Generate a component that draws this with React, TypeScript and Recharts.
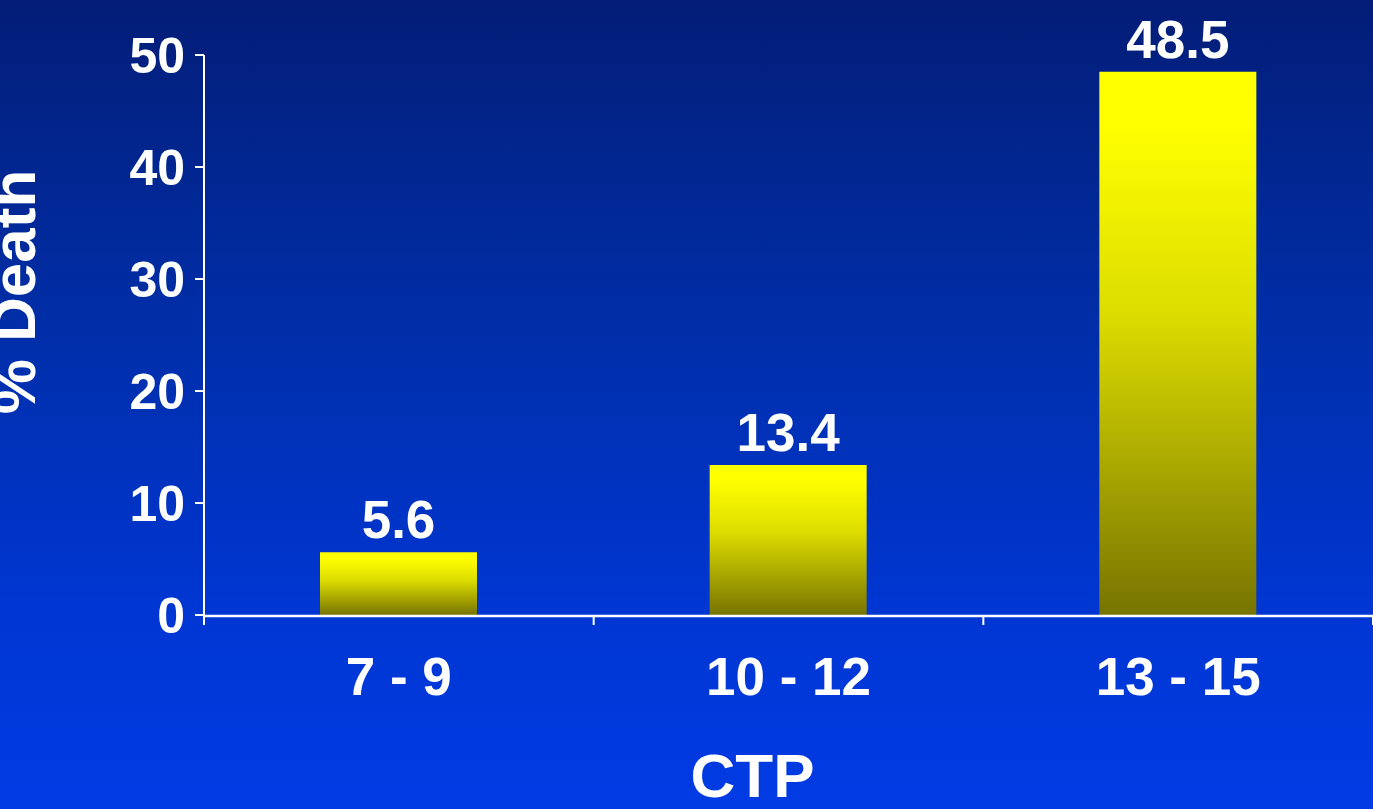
import { BarChart, Bar, XAxis, YAxis, LabelList } from "recharts";

/* ---------------- DATA ---------------- */

const categories = ["7 - 9", "10 - 12", "13 - 15"];
const deathPct = [5.6, 13.4, 48.5];
const yTicks = [0, 10, 20, 30, 40, 50];
const edgeTicks = [0, 1, 2, 3];

const data = categories.map((ctp, i) => ({ ctp, death: deathPct[i] }));

/* ---------------- STYLE ---------------- */

const FONT = '"Liberation Sans", Arial, Helvetica, sans-serif';
const WHITE = "#ffffff";

function YTitle({ viewBox }: any) {
  const cx = viewBox.x + 35;
  const cy = viewBox.y + viewBox.height / 2 - 43;
  return (
    <text
      x={cx}
      y={cy}
      transform={`rotate(-90 ${cx} ${cy})`}
      textAnchor="middle"
      fill={WHITE}
      fontSize={62}
      fontWeight="bold"
      fontFamily={FONT}
    >
      % Death
    </text>
  );
}

function XTitle({ viewBox }: any) {
  const cx = viewBox.x + viewBox.width / 2 - 36;
  const cy = viewBox.y + 182;
  return (
    <text
      x={cx}
      y={cy}
      textAnchor="middle"
      fill={WHITE}
      fontSize={62}
      fontWeight="bold"
      fontFamily={FONT}
    >
      CTP
    </text>
  );
}

export default function App() {
  return (
    <div
      style={{
        position: "absolute",
        left: 0,
        top: 0,
        width: 1373,
        height: 809,
        overflow: "hidden",
        background: "linear-gradient(180deg, #031d77 0%, #002ea8 40%, #0036d2 75%, #003be4 100%)"
      }}
    >
      <BarChart
        width={1373}
        height={809}
        data={data}
        margin={{ top: 55, right: 0, bottom: 0, left: 0 }}
      >
        <defs>
          <linearGradient id="barGrad" x1="0" y1="0" x2="0" y2="1">
            <stop offset="0%" stopColor="#ffff00" />
            <stop offset="10%" stopColor="#ffff00" />
            <stop offset="45%" stopColor="#dcdc00" />
            <stop offset="100%" stopColor="#777400" />
          </linearGradient>
        </defs>

        {/* category labels (thin axis, sits right on the plot bottom) */}
        <XAxis
          xAxisId="cat"
          dataKey="ctp"
          height={1}
          axisLine={false}
          tickLine={false}
          tickSize={0}
          tickMargin={42}
          tick={{ fill: WHITE, fontSize: 53, fontWeight: "bold", fontFamily: FONT }}
          label={<XTitle />}
        />

        {/* band edges: axis line + tick marks */}
        <XAxis
          xAxisId="edge"
          type="number"
          dataKey="death"
          domain={[0, 3]}
          ticks={edgeTicks}
          allowDataOverflow
          interval={0}
          height={193}
          tickSize={9}
          tickFormatter={() => ""}
          axisLine={{ stroke: WHITE, strokeWidth: 2.5 }}
          tickLine={{ stroke: WHITE, strokeWidth: 2 }}
        />

        <YAxis
          width={204}
          domain={[0, 50]}
          ticks={yTicks}
          tickSize={9}
          tickMargin={10}
          axisLine={{ stroke: WHITE, strokeWidth: 2 }}
          tickLine={{ stroke: WHITE, strokeWidth: 2 }}
          tick={{ fill: WHITE, fontSize: 50, fontWeight: "bold", fontFamily: FONT }}
          label={<YTitle />}
        />

        <Bar
          xAxisId="cat"
          dataKey="death"
          barSize={157}
          fill="url(#barGrad)"
          isAnimationActive={false}
        >
          <LabelList
            dataKey="death"
            position="top"
            offset={14}
            fill={WHITE}
            fontSize={53}
            fontWeight="bold"
            fontFamily={FONT}
          />
        </Bar>
      </BarChart>
    </div>
  );
}
